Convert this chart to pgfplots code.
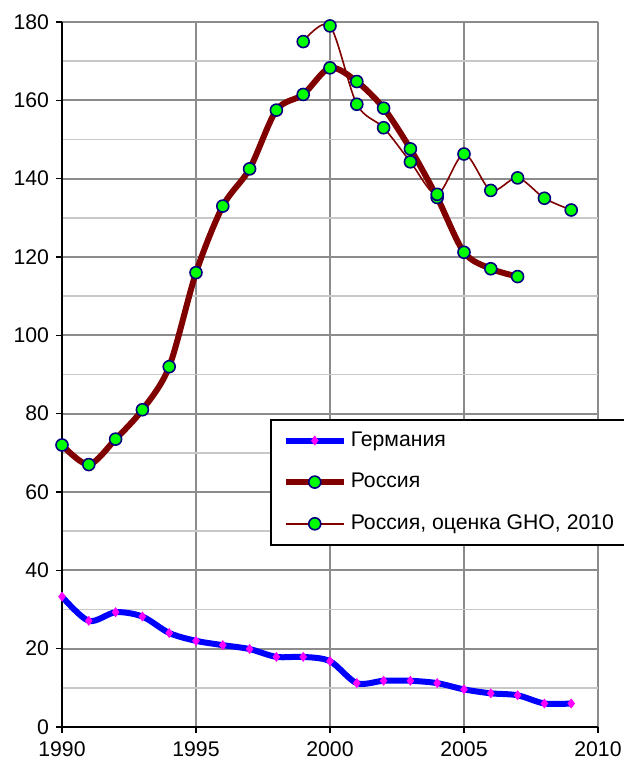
\documentclass[border=0pt]{standalone}
\usepackage{fontspec}
\setmainfont{Liberation Sans}
\usepackage{pgfplots}
\pgfplotsset{compat=1.18}
\definecolor{gerblue}{RGB}{0,0,255}
\definecolor{gerpink}{RGB}{255,0,255}
\definecolor{rusred}{RGB}{128,0,0}
\definecolor{dotgreen}{RGB}{0,255,0}
\definecolor{dotnavy}{RGB}{0,0,128}
\definecolor{gridmaj}{RGB}{140,140,140}
\definecolor{gridmin}{RGB}{200,200,200}
\newcommand{\chartfont}{\fontsize{10.6}{12}\selectfont}

\begin{document}
\begin{tikzpicture}
\path[use as bounding box] (0pt,0pt) rectangle (312pt,381pt);
\begin{axis}[
at={(31pt,17.5pt)},anchor=south west,
scale only axis,width=268pt,height=352.5pt,
xmin=1990,xmax=2010,ymin=0,ymax=180,
xtick={1990,1995,...,2010},ytick={0,20,...,180},
minor y tick num=1,minor tick length=0pt,
axis lines=left,axis line style={-,black,line width=0.9pt},
tick align=outside,major tick length=3pt,
tick style={black,line width=0.8pt},
grid=both,
major grid style={gridmaj,line width=0.9pt},
minor grid style={gridmin,line width=0.9pt},
ticklabel style={font=\chartfont},
/pgf/number format/assume math mode=true,
xticklabel style={/pgf/number format/1000 sep={},yshift=-1pt},
legend style={at={(rel axis cs:0.388,0.437)},anchor=north west,
  draw=black,line width=0.8pt,fill=white,font=\chartfont,
  inner xsep=6pt,inner ysep=4pt,row sep=8pt},
legend cell align=left,
legend image code/.code={\draw[mark repeat=2,mark phase=2,#1] plot coordinates {(0pt,0pt) (14.5pt,0pt) (29pt,0pt)};},
]
\addplot[gerblue,line width=3pt,smooth,tension=0.5,
  mark=diamond*,mark size=2.2pt,mark options={gerpink,draw=gerpink,line width=0.4pt}] coordinates {
(1990,33.3) (1991,27.1) (1992,29.3) (1993,28.2) (1994,24.0) (1995,22.0)
(1996,20.9) (1997,19.9) (1998,17.9) (1999,17.9) (2000,16.8) (2001,11.2)
(2002,11.8) (2003,11.8) (2004,11.2) (2005,9.6) (2006,8.6) (2007,8.1)
(2008,6.0) (2009,6.0)};
\addlegendentry{Германия}
\addplot[rusred,line width=3pt,smooth,tension=0.5,
  mark=*,mark size=3pt,mark options={fill=dotgreen,draw=dotnavy,line width=0.8pt}] coordinates {
(1990,72.0) (1991,67.0) (1992,73.5) (1993,81.0) (1994,92.0) (1995,116.0)
(1996,133.0) (1997,142.5) (1998,157.5) (1999,161.5) (2000,168.3) (2001,164.8)
(2002,158.0) (2003,147.6) (2004,135.2) (2005,121.2) (2006,117.0) (2007,115.0)};
\addlegendentry{Россия}
\addplot[rusred,line width=0.8pt,smooth,tension=0.5,
  mark=*,mark size=3pt,mark options={fill=dotgreen,draw=dotnavy,line width=0.8pt}] coordinates {
(1999,175.0) (2000,179.0) (2001,159.0) (2002,153.0) (2003,144.3) (2004,136.0)
(2005,146.3) (2006,137.0) (2007,140.2) (2008,135.0) (2009,132.0)};
\addlegendentry{Россия, оценка GHO, 2010}
\end{axis}
\end{tikzpicture}
\end{document}
